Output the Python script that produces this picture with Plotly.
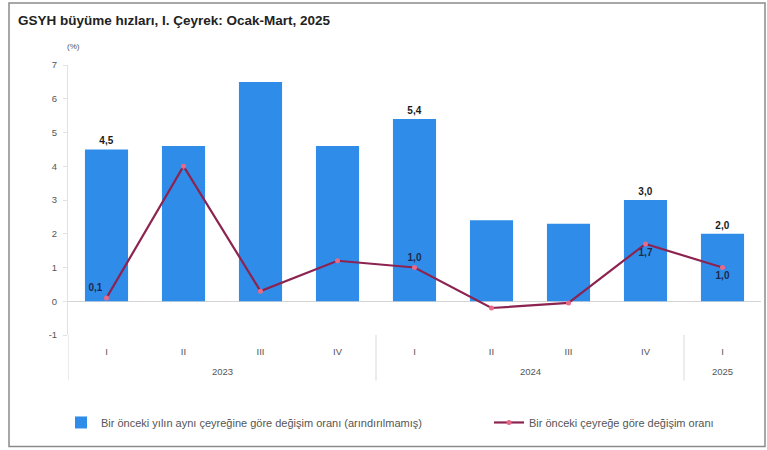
import plotly.graph_objects as go

# Quarterly GDP growth rates (%)
years = ["2023", "2023", "2023", "2023", "2024", "2024", "2024", "2024", "2025"]
quarters = ["I", "II", "III", "IV", "I", "II", "III", "IV", "I"]
yoy_growth = [4.5, 4.6, 6.5, 4.6, 5.4, 2.4, 2.3, 3.0, 2.0]
qoq_growth = [0.1, 4.0, 0.3, 1.2, 1.0, -0.2, -0.05, 1.7, 1.0]

# Which points carry a value label
yoy_labelled = [True, False, False, False, True, False, False, True, True]
qoq_labelled = [True, False, False, False, True, False, False, True, True]
qoq_label_pos = ["top left", "top center", "top center", "top center", "top center",
                 "top center", "top center", "bottom center", "bottom center"]

y_ticks = [-1, 0, 1, 2, 3, 4, 5, 6, 7]

series_names = [
    "Bir önceki yılın aynı çeyreğine göre değişim oranı (arındırılmamış)",
    "Bir önceki çeyreğe göre değişim oranı",
]


def fmt(v):
    return f"{v:.1f}".replace(".", ",")


FONT = "Liberation Sans, Arial, sans-serif"
BAR_COLOR = "#2f8de9"
LINE_COLOR = "#8c2350"
AXIS_TEXT = "#555555"
DIVIDER = "#d9d9d9"

# plot area in pixels
PL, PR, PT, PB = 68, 761, 65, 335.4
PW, PH = PR - PL, PB - PT


def px_x(x):
    return (x - PL) / PW


def px_y(y):
    return (PB - y) / PH


# one slot per quarter along the x axis
pos = list(range(len(quarters)))

# year groups: centre of each group and the boundaries between groups
groups = []
for i, yr in enumerate(years):
    if not groups or groups[-1][0] != yr:
        groups.append([yr, i, i])
    else:
        groups[-1][2] = i
group_centres = [(yr, (a + b) / 2) for yr, a, b in groups]
group_edges = [a - 0.5 for _, a, _ in groups]

fig = go.Figure()

fig.add_trace(go.Bar(
    x=pos,
    y=yoy_growth,
    name=series_names[0],
    legend="legend",
    marker=dict(color=BAR_COLOR, line=dict(width=0)),
    text=[fmt(v) if show else "" for v, show in zip(yoy_growth, yoy_labelled)],
    textposition="outside",
    cliponaxis=False,
    textfont=dict(family=FONT, size=10, color="#1b1b1b", weight="bold"),
))

fig.add_trace(go.Scatter(
    x=pos,
    y=qoq_growth,
    name=series_names[1],
    legend="legend2",
    mode="lines+markers+text",
    line=dict(color=LINE_COLOR, width=2.2),
    marker=dict(color="#e86a86", size=5, line=dict(width=0)),
    text=[fmt(v) if show else "" for v, show in zip(qoq_growth, qoq_labelled)],
    textposition=qoq_label_pos,
    cliponaxis=False,
    textfont=dict(family=FONT, size=10, color="#1d2b4a", weight="bold"),
))

legend_common = dict(
    orientation="h",
    xanchor="left",
    y=px_y(423), yanchor="middle",
    font=dict(family=FONT, size=11, color=AXIS_TEXT),
    itemwidth=30,
    bgcolor="rgba(0,0,0,0)",
)

annotations = [
    dict(text="(%)", xref="paper", yref="paper",
         x=px_x(73), y=px_y(46),
         showarrow=False, xanchor="center", yanchor="middle",
         font=dict(family=FONT, size=8, color=AXIS_TEXT)),
]
for yr, c in group_centres:
    annotations.append(dict(
        text=yr, xref="x", yref="paper", x=c, y=px_y(372),
        showarrow=False, xanchor="center", yanchor="middle",
        font=dict(family=FONT, size=9.5, color=AXIS_TEXT),
    ))

shapes = [
    dict(type="rect", xref="paper", yref="paper",
         x0=px_x(9), x1=px_x(765),
         y0=px_y(447), y1=px_y(3),
         line=dict(color="#8a8a8a", width=1.5), fillcolor="rgba(0,0,0,0)",
         layer="below"),
]
for e in group_edges:
    shapes.append(dict(
        type="line", xref="x", yref="paper", x0=e, x1=e,
        y0=px_y(PB), y1=px_y(381),
        line=dict(color=DIVIDER, width=1),
    ))

fig.update_layout(
    width=767,
    height=450,
    margin=dict(l=PL, r=767 - PR, t=PT, b=450 - PB),
    paper_bgcolor="white",
    plot_bgcolor="white",
    font=dict(family=FONT, color=AXIS_TEXT),
    bargap=0.44,
    showlegend=True,
    title=dict(
        text="<b>GSYH büyüme hızları, I. Çeyrek: Ocak-Mart, 2025</b>",
        x=18 / 767, xanchor="left", xref="container",
        y=1 - 20 / 450, yanchor="middle", yref="container",
        font=dict(family=FONT, size=13.5, color="#222222"),
    ),
    legend=dict(legend_common, x=px_x(61)),
    legend2=dict(legend_common, x=px_x(489)),
    xaxis=dict(
        range=[-0.5, len(quarters) - 0.5],
        tickvals=pos,
        ticktext=quarters,
        showgrid=False,
        zeroline=False,
        showline=False,
        ticks="",
        ticklabelstandoff=9,
        tickfont=dict(family=FONT, size=9.5, color=AXIS_TEXT),
    ),
    yaxis=dict(
        range=[-1, 7],
        tickvals=y_ticks,
        ticktext=[str(v) for v in y_ticks],
        showgrid=False,
        zeroline=True,
        zerolinecolor="#d4d4d4",
        zerolinewidth=1,
        showline=True,
        linecolor="#e2e2e2",
        linewidth=1,
        ticks="outside",
        ticklen=4,
        tickcolor="#e2e2e2",
        ticklabelstandoff=4,
        tickfont=dict(family=FONT, size=9.5, color=AXIS_TEXT),
    ),
    annotations=annotations,
    shapes=shapes,
)

fig.write_html("out.html")
